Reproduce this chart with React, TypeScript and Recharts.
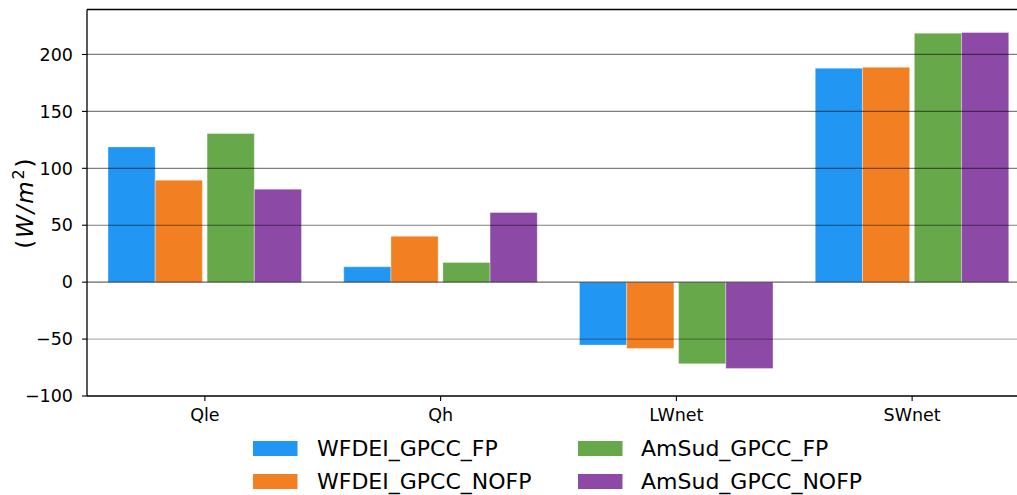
import React from "react";
import { BarChart, Bar, XAxis, YAxis, ReferenceLine } from "recharts";

const categories = ["Qle", "Qh", "LWnet", "SWnet"];
const seriesNames = ["WFDEI_GPCC_FP", "WFDEI_GPCC_NOFP", "AmSud_GPCC_FP", "AmSud_GPCC_NOFP"];
const seriesColors = ["#2196f3", "#f28022", "#66a84a", "#8c4aa6"];
const WFDEI_FP = [118.8, 13.5, -55.3, 188.0];
const WFDEI_NOFP = [89.6, 40.4, -58.2, 188.8];
const AMSUD_FP = [130.6, 17.3, -71.7, 218.7];
const AMSUD_NOFP = [81.7, 61.2, -75.8, 219.3];
const yTicks = [-100, -50, 0, 50, 100, 150, 200];
const gridLevels = [50, 100, 150, 200];

const seriesValues = [WFDEI_FP, WFDEI_NOFP, AMSUD_FP, AMSUD_NOFP];

const data = categories.map((c, i) => {
  const row: Record<string, number | string> = { name: c };
  seriesNames.forEach((s, j) => {
    row[s] = seriesValues[j][i];
  });
  return row;
});

const FONT = "DejaVu Sans";
const fmt = (v: number) => String(v).replace("-", "\u2212");

const YLabel = (props: any) => {
  const vb = props.viewBox || {};
  const cy = (vb.y ?? 9.5) + (vb.height ?? 386.5) / 2;
  const bx = 33;
  return (
    <text
      x={0}
      y={0}
      transform={`translate(${bx}, ${cy}) rotate(-90)`}
      textAnchor="middle"
      fontFamily={FONT}
      fontSize={23}
      letterSpacing={1.8}
      fill="#000"
    >
      <tspan>(</tspan>
      <tspan fontStyle="italic">W/m</tspan>
      <tspan fontSize={16} dy={-9}>2</tspan>
      <tspan dy={9}>)</tspan>
    </text>
  );
};

export default function App() {
  const barSize = 47.2;
  return (
    <div style={{ position: "absolute", left: 0, top: 0, width: 1017, height: 495, overflow: "hidden", background: "#fff" }}>
      <BarChart
        width={1035}
        height={495}
        data={data}
        margin={{ top: 9.5, right: 5, left: 0, bottom: 69 }}
        barGap={0}
        barCategoryGap={21}
      >
        <XAxis
          dataKey="name"
          height={30}
          tickSize={5}
          tickMargin={8}
          axisLine={{ stroke: "#000", strokeWidth: 1.3 }}
          tickLine={{ stroke: "#000", strokeWidth: 1.1 }}
          tick={{ fontFamily: FONT, fontSize: 17.5, fill: "#000" }}
          interval={0}
        />
        <YAxis
          width={87}
          domain={[-100, 239.5]}
          ticks={yTicks}
          allowDataOverflow
          tickFormatter={fmt}
          tickSize={5}
          tickMargin={9}
          axisLine={{ stroke: "#000", strokeWidth: 1.3 }}
          tickLine={{ stroke: "#000", strokeWidth: 1.1 }}
          tick={{ fontFamily: FONT, fontSize: 17.5, fill: "#000" }}
          label={<YLabel />}
        />
        <Bar dataKey={seriesNames[0]} fill={seriesColors[0]} barSize={barSize} stroke="#fff" strokeOpacity={0.35} isAnimationActive={false} />
        <Bar dataKey={seriesNames[1]} fill={seriesColors[1]} barSize={barSize} stroke="#fff" strokeOpacity={0.35} isAnimationActive={false} />
        <Bar dataKey="__gap" fill="none" barSize={4.7} legendType="none" isAnimationActive={false} />
        <Bar dataKey={seriesNames[2]} fill={seriesColors[2]} barSize={barSize} stroke="#fff" strokeOpacity={0.35} isAnimationActive={false} />
        <Bar dataKey={seriesNames[3]} fill={seriesColors[3]} barSize={barSize} stroke="#fff" strokeOpacity={0.35} isAnimationActive={false} />
        {gridLevels.map((g) => (
          <ReferenceLine key={g} y={g} stroke="#000" strokeOpacity={0.5} strokeWidth={1.2} />
        ))}
        <ReferenceLine y={0} stroke="#000" strokeOpacity={0.6} strokeWidth={1.3} />
        <ReferenceLine y={-50} stroke="#000" strokeOpacity={0.3} strokeWidth={1.3} />
        <ReferenceLine y={239.5} stroke="#000" strokeWidth={1.3} />
      </BarChart>
      <svg width={1017} height={495} style={{ position: "absolute", left: 0, top: 0, pointerEvents: "none" }}>
        {seriesNames.map((s, i) => {
          const col = Math.floor(i / 2);
          const row = i % 2;
          const sx = col === 0 ? 253 : 578;
          const tx = col === 0 ? 317 : 641;
          const sy = row === 0 ? 441 : 474;
          const by = row === 0 ? 456 : 489.3;
          return (
            <g key={s}>
              <rect x={sx} y={sy} width={44.5} height={15} fill={seriesColors[i]} />
              <text x={tx} y={by} fontFamily={FONT} fontSize={22} fill="#000">{s}</text>
            </g>
          );
        })}
      </svg>
    </div>
  );
}
